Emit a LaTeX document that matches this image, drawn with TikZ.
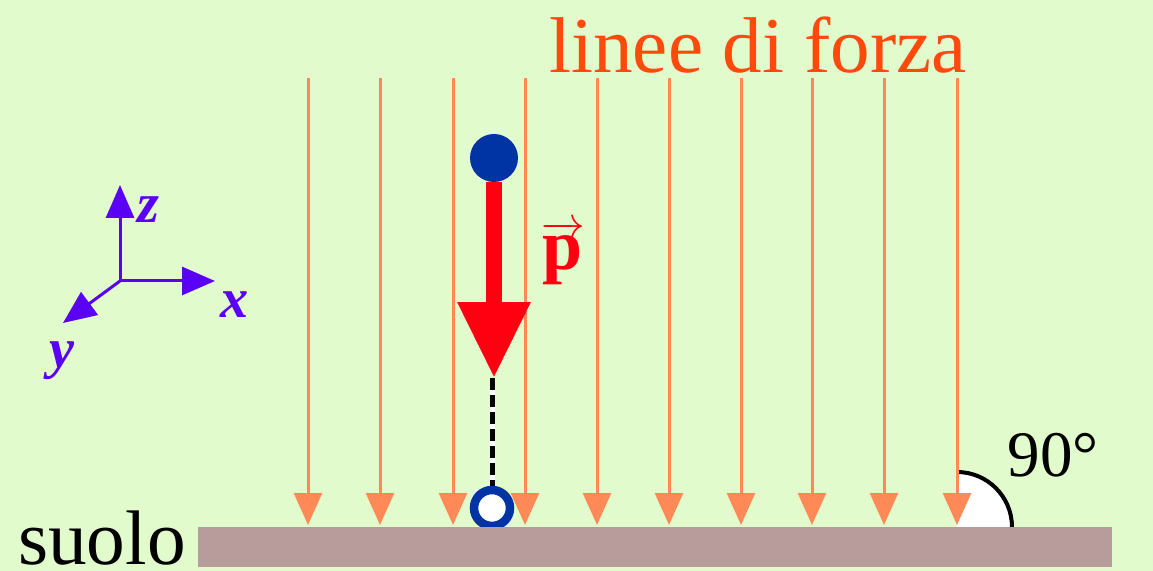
\documentclass[tikz,border=0pt]{standalone}
\usepackage{fontspec}
\setmainfont{Liberation Serif}
\usetikzlibrary{arrows.meta}
\definecolor{bgcol}{HTML}{E2FBCC}
\definecolor{fieldline}{HTML}{FF8A58}
\definecolor{titlecol}{HTML}{FF4A0C}
\definecolor{groundcol}{HTML}{B89B9B}
\definecolor{ballcol}{HTML}{0033A4}
\definecolor{weightcol}{HTML}{FF0010}
\definecolor{axiscol}{HTML}{5A00F5}

\tikzset{
  fieldarrow/.style={fieldline,line width=0.06cm,-{Triangle[length=0.64cm,width=0.56cm]}},
  axisarrow/.style={axiscol,line width=0.06cm,-{Triangle[length=0.66cm,width=0.56cm]}},
  axislabel/.style={axiscol,font=\fontsize{32}{36}\selectfont\bfseries\itshape},
}

\begin{document}
\begin{tikzpicture}[x=0.02cm,y=0.02cm]
  % background
  \fill[bgcol] (0,0) rectangle (1153,571);
  \useasboundingbox (0,0) rectangle (1153,571);

  % right angle between field line and ground
  \coordinate (corner) at (957,44);
  \fill[white] (corner) -- ++(1.1cm,0) arc (0:90:1.1cm) -- cycle;
  \draw[black,line width=0.08cm] (corner) ++(1.1cm,0) arc (0:90:1.1cm);
  \node[font=\fontsize{37}{42}\selectfont] (ang) at (1053,116) {90°};

  % lines of force
  \foreach \i/\x in {1/308,2/380,3/453,4/525,5/597,6/669,7/741,8/812,9/884,10/957} {
    \coordinate (t\i) at (\x,493);
    \coordinate (b\i) at (\x,46);
    \draw[fieldarrow] (t\i) -- (b\i);
  }
  \node[titlecol,font=\fontsize{45}{54}\selectfont] (title) at (758,526) {linee di forza};

  % body, weight and its projection
  \node[circle,fill=ballcol,minimum size=0.96cm,inner sep=0] (ball) at (494,413) {};
  \coordinate (wtip) at (494,193);
  \draw[weightcol,line width=0.32cm,-{Triangle[length=1.52cm,width=1.38cm]}] (ball.south) -- (wtip);
  \node[weightcol,font=\fontsize{41}{46}\selectfont\bfseries] (plabel) at (563,318) {$\overrightarrow{\textbf{p}}$};
  \node[circle,draw=ballcol,fill=white,line width=0.17cm,minimum size=0.72cm,inner sep=0] (proj) at (492,63) {};
  \draw[white,line width=0.1cm] (492,193) -- (proj.north);
  \draw[black,line width=0.1cm,dash pattern=on 0.24cm off 0.1cm] (492,193) -- (proj.north);

  % ground
  \fill[groundcol] (198,4) rectangle (1112,44);
  \node[font=\fontsize{44}{50}\selectfont,anchor=base] (suolo) at (102,6) {suolo};

  % axes
  \coordinate (o) at (120,290);
  \coordinate (ez) at (120,386);
  \coordinate (ex) at (215,290);
  \coordinate (ey) at (63,248);
  \draw[axisarrow] (o) -- (ez);
  \draw[axisarrow] (o) -- (ex);
  \draw[axisarrow] (o) -- (ey);
  \node[axislabel] (lz) at (148,361) {z};
  \node[axislabel] (lx) at (235,266) {x};
  \node[axislabel] (ly) at (62,210) {y};
\end{tikzpicture}
\end{document}
